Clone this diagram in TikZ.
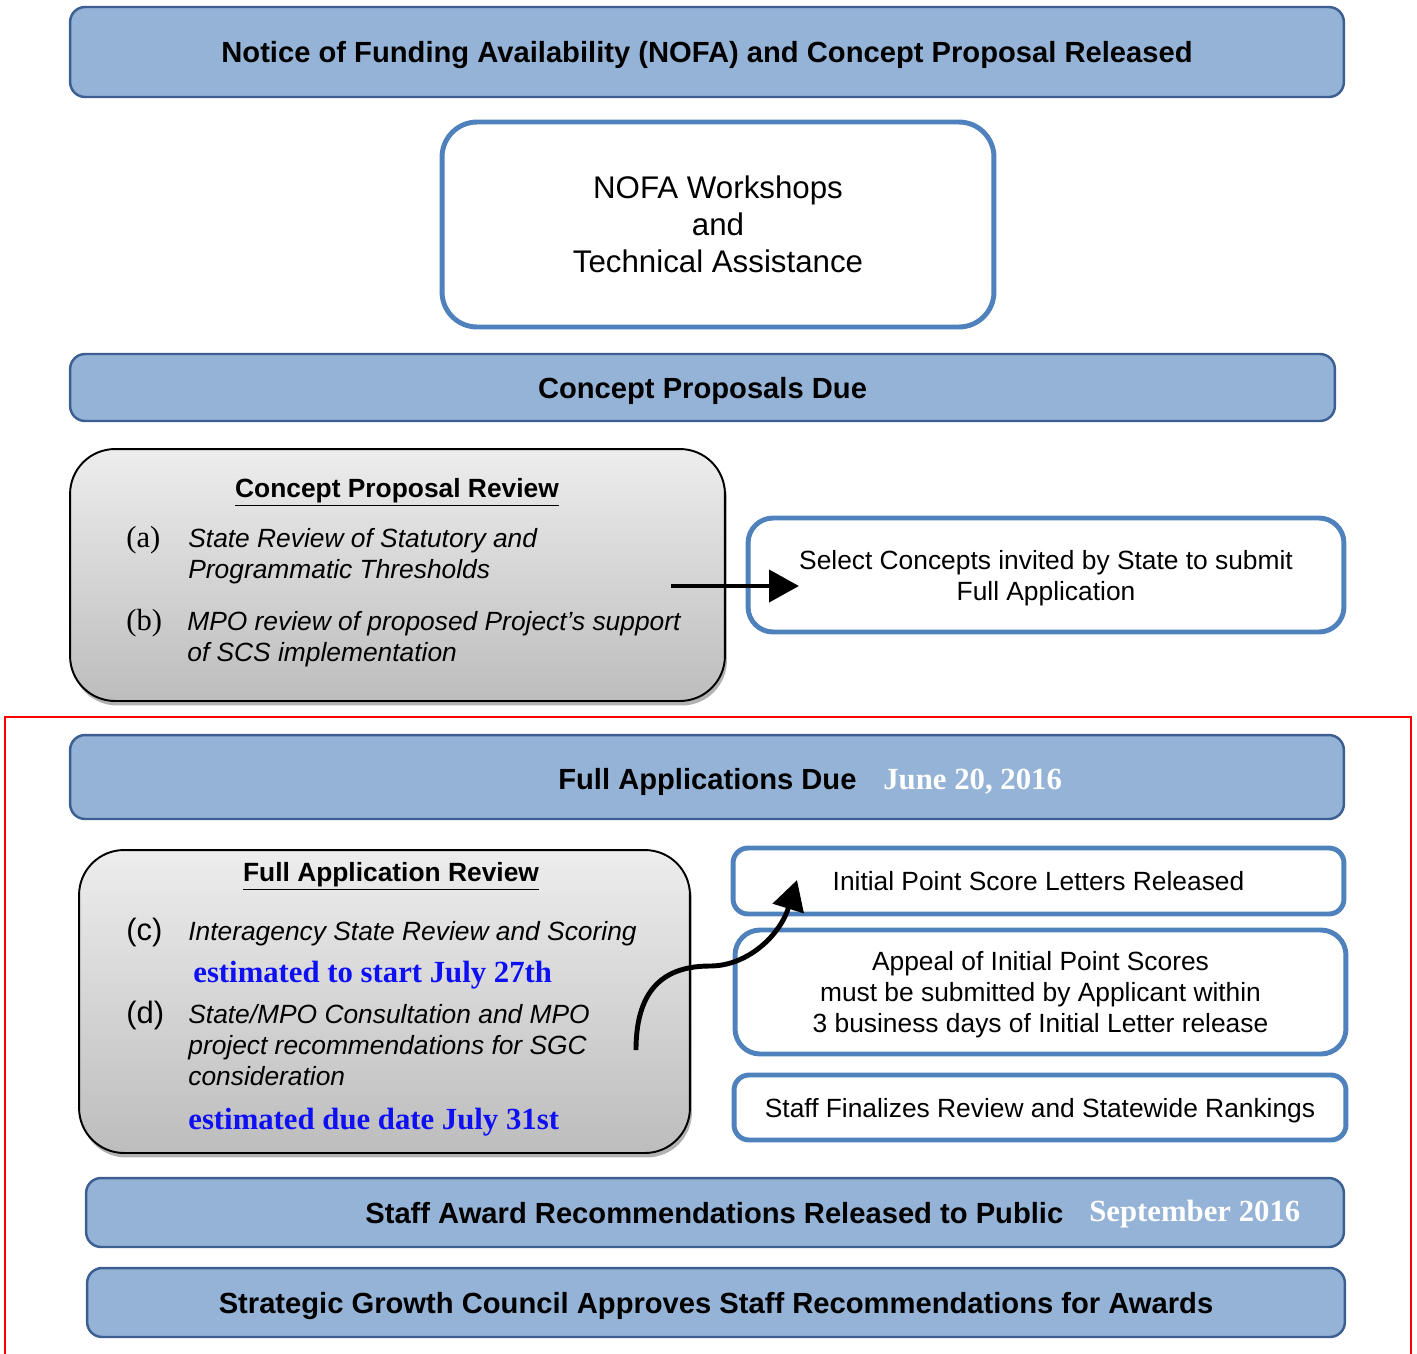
\documentclass[tikz,border=0pt]{standalone}
\usepackage{fontspec}
\setmainfont{Liberation Sans}
\newfontfamily\datefont{Liberation Serif}
\usetikzlibrary{arrows.meta,shadows}

\definecolor{barfill}{RGB}{149,179,215}
\definecolor{barline}{RGB}{60,95,145}
\definecolor{boxline}{RGB}{79,129,189}
\definecolor{datecol}{RGB}{15,15,245}

\begin{document}
\begin{tikzpicture}[x=0.02cm,y=-0.02cm,
    bar/.style={draw=barline,fill=barfill,line width=1.4pt,rounded corners=0.3cm,inner sep=0pt,text depth=0pt,font=\fontsize{16.6}{19}\selectfont\bfseries},
    whitebox/.style={draw=boxline,fill=white,line width=2.8pt,inner sep=0pt,text depth=0pt,align=center,font=\fontsize{15}{17.6}\selectfont},
    reviewbox/.style={draw=black,line width=1.1pt,rounded corners=0.9cm,top color=gray!14,bottom color=gray!52,inner sep=0pt,
        drop shadow={shadow xshift=0.04cm,shadow yshift=-0.09cm,opacity=0.3,fill=black}},
    bartitle/.style={anchor=base west,inner sep=0pt,font=\fontsize{16.6}{19}\selectfont\bfseries},
    bardate/.style={anchor=base west,inner sep=0pt,text=white,font=\fontsize{17.5}{20}\datefont\bfseries},
    revtitle/.style={anchor=base,inner sep=0pt,font=\fontsize{15}{18}\selectfont\bfseries},
    itemlabel/.style={anchor=base west,inner sep=0pt,font=\fontsize{17.4}{20}\datefont},
    itemlabelsf/.style={anchor=base west,inner sep=0pt,font=\fontsize{17.6}{20}\selectfont},
    itemtext/.style={anchor=base west,inner sep=0pt,align=left,font=\fontsize{15}{17.6}\selectfont\itshape},
    estdate/.style={anchor=base west,inner sep=0pt,text=datecol,font=\fontsize{17.5}{20}\datefont\bfseries},
    bigarrow/.style={-{Triangle[length=17pt,width=18pt]},line width=2.8pt}]
    \useasboundingbox (0,0) rectangle (1417,1353);
    % NOFA
    \node[bar,minimum width=25.48cm,minimum height=1.8cm] (nofa) at (707,52) {Notice of Funding Availability (NOFA) and Concept Proposal Released};
    % Workshops
    \node[whitebox,rounded corners=0.7cm,minimum width=11.04cm,minimum height=4.1cm,font=\fontsize{17.8}{21}\selectfont] (workshop) at (718,224.5) {NOFA Workshops\\and\\Technical Assistance};
    % Concept proposals due
    \node[bar,minimum width=25.3cm,minimum height=1.34cm] (cpdue) at (702.5,387.5) {Concept Proposals Due};
    % Concept proposal review
    \node[reviewbox,minimum width=13.1cm,minimum height=5.04cm] (cpreview) at (397.5,575) {};
    \node[revtitle] (cptitle) at (397,497) {\underline{Concept Proposal Review}};
    \node[itemlabel] (la) at (126,547) {(a)};
    \node[itemtext] (ia) at (188,578) {State Review of Statutory and\\Programmatic Thresholds};
    \node[itemlabel] (lb) at (126,630) {(b)};
    \node[itemtext] (ib) at (187,661) {MPO review of proposed Project’s support\\of SCS implementation};
    % Select concepts
    \node[whitebox,rounded corners=0.5cm,minimum width=11.92cm,minimum height=2.28cm] (select) at (1046,575) {Select Concepts invited by State to submit\\Full Application};
    \coordinate (selstart) at (671,586);
    \coordinate (selend) at (799,586);
    \draw[bigarrow] (selstart) -- (selend);
    % Red frame
    \draw[red,line width=1.1pt] (5,717) rectangle (1411,1380);
    % Full applications due
    \node[bar,minimum width=25.48cm,minimum height=1.68cm] (fadue) at (707,777) {};
    \node[bartitle] (fatitle) at (558,789) {Full Applications Due};
    \node[bardate] (fadate) at (883,789) {June 20, 2016};
    % Full application review
    \node[reviewbox,minimum width=12.22cm,minimum height=6.06cm] (fareview) at (384.5,1001.5) {};
    \node[revtitle] (fartitle) at (391,881) {\underline{Full Application Review}};
    \node[itemlabelsf] (lc) at (126,940) {(c)};
    \node[itemtext] (ic) at (188,940) {Interagency State Review and Scoring};
    \node[estdate] (datec) at (193,982) {estimated to start July 27th};
    \node[itemlabelsf] (ld) at (126,1023) {(d)};
    \node[itemtext] (id) at (188,1085) {State/MPO Consultation and MPO\\project recommendations for SGC\\consideration};
    \node[estdate] (dated) at (188,1129) {estimated due date July 31st};
    % Right column
    \node[whitebox,rounded corners=0.3cm,minimum width=12.22cm,minimum height=1.32cm] (initial) at (1038.5,881) {Initial Point Score Letters Released};
    \node[whitebox,rounded corners=0.5cm,minimum width=12.22cm,minimum height=2.48cm] (appeal) at (1040.5,992) {Appeal of Initial Point Scores\\must be submitted by Applicant within\\3 business days of Initial Letter release};
    \node[whitebox,rounded corners=0.3cm,minimum width=12.24cm,minimum height=1.3cm] (finalize) at (1040,1107.5) {Staff Finalizes Review and Statewide Rankings};
    % Curved arrow
    \coordinate (curvestart) at (636,1050);
    \coordinate (curveend) at (797,880);
    \draw[bigarrow] (curvestart) .. controls (636,985) and (668,966) .. (710,966) .. controls (748,966) and (780,935) .. (curveend);
    % Staff award
    \node[bar,minimum width=25.16cm,minimum height=1.38cm] (award) at (715,1212.5) {};
    \node[bartitle] (awtitle) at (365,1223) {Staff Award Recommendations Released to Public};
    \node[bardate] (awdate) at (1089,1221) {September 2016};
    % SGC approves
    \node[bar,minimum width=25.16cm,minimum height=1.38cm] (sgc) at (716,1302.5) {Strategic Growth Council Approves Staff Recommendations for Awards};
\end{tikzpicture}
\end{document}
